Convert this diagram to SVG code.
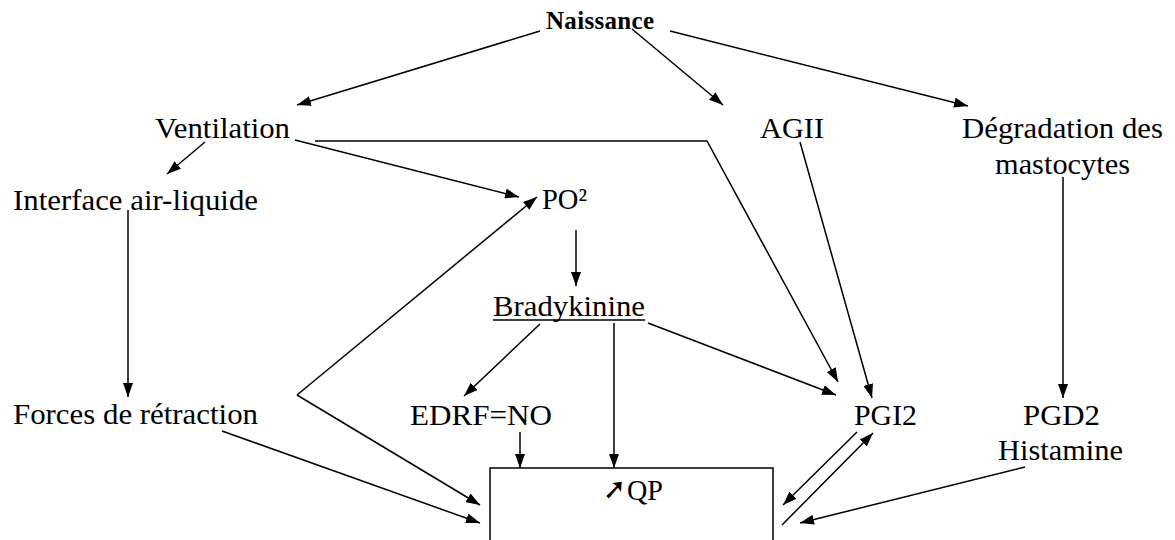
<svg xmlns="http://www.w3.org/2000/svg" width="1175" height="540" viewBox="0 0 1175 540">
<style>
.t{font-family:"Liberation Serif","Times New Roman",serif;font-size:30px;fill:#000}
.b{font-family:"Liberation Serif","Times New Roman",serif;font-size:25px;font-weight:bold;fill:#000}
.c line,.c path{stroke:#000;stroke-width:1.5;fill:none;marker-end:url(#ah)}
</style>
<defs>
<marker id="ah" viewBox="0 0 14 10" refX="14" refY="5" markerWidth="14" markerHeight="10" markerUnits="userSpaceOnUse" orient="auto">
<path d="M0,0 L14,5 L0,10 z" fill="#000"/>
</marker>
</defs>
<rect width="1175" height="540" fill="#fff"/>
<g id="connectors" class="c">
<line x1="540" y1="31" x2="297" y2="105"/>
<line x1="632" y1="29" x2="723" y2="105"/>
<line x1="670" y1="31" x2="968" y2="106"/>
<line x1="205" y1="142" x2="167" y2="174"/>
<line x1="295" y1="140" x2="519" y2="197"/>
<path d="M315,141 L707,141 L838,382"/>
<line x1="800" y1="142" x2="872" y2="398"/>
<line x1="1063" y1="177" x2="1063" y2="398"/>
<line x1="128" y1="210" x2="128" y2="397"/>
<line x1="576" y1="230" x2="576" y2="286"/>
<line x1="297" y1="395" x2="537" y2="197"/>
<line x1="297" y1="395" x2="480" y2="505"/>
<line x1="222" y1="431" x2="480" y2="523"/>
<line x1="540" y1="324" x2="464" y2="396"/>
<line x1="614" y1="323" x2="614" y2="468"/>
<line x1="648" y1="323" x2="836" y2="395"/>
<line x1="520" y1="432" x2="520" y2="468"/>
<line x1="857" y1="432" x2="783" y2="505"/>
<line x1="782" y1="525" x2="873" y2="433"/>
<line x1="1025" y1="467" x2="800" y2="523"/>
</g>
<g id="naissance"><text class="b" x="546" y="29" textLength="108" lengthAdjust="spacing">Naissance</text></g>
<g id="ventilation"><text class="t" x="155" y="138" textLength="135" lengthAdjust="spacingAndGlyphs">Ventilation</text></g>
<g id="agii"><text class="t" x="760" y="138" textLength="64" lengthAdjust="spacingAndGlyphs">AGII</text></g>
<g id="degradation"><text class="t" x="962" y="138" textLength="201" lengthAdjust="spacingAndGlyphs">Dégradation des</text><text class="t" x="995" y="174" textLength="135" lengthAdjust="spacingAndGlyphs">mastocytes</text></g>
<g id="interface"><text class="t" x="13" y="210" textLength="245" lengthAdjust="spacingAndGlyphs">Interface air-liquide</text></g>
<g id="po2"><text class="t" x="542" y="209" textLength="45" lengthAdjust="spacingAndGlyphs">PO²</text></g>
<g id="bradykinine"><text class="t" x="493" y="316" textLength="152" lengthAdjust="spacingAndGlyphs">Bradykinine</text><line x1="493" y1="320" x2="645" y2="320" stroke="#000" stroke-width="1.3"/></g>
<g id="forces"><text class="t" x="13" y="424" textLength="245" lengthAdjust="spacingAndGlyphs">Forces de rétraction</text></g>
<g id="edrf"><text class="t" x="410" y="425" textLength="142" lengthAdjust="spacingAndGlyphs">EDRF=NO</text></g>
<g id="pgi2"><text class="t" x="854" y="425" textLength="63" lengthAdjust="spacingAndGlyphs">PGI2</text></g>
<g id="pgd2"><text class="t" x="1023" y="425" textLength="77" lengthAdjust="spacingAndGlyphs">PGD2</text><text class="t" x="998" y="460" textLength="125" lengthAdjust="spacingAndGlyphs">Histamine</text></g>
<g id="qp"><rect x="490" y="468" width="283" height="90" fill="none" stroke="#000" stroke-width="1.5"/><text x="603" y="499" textLength="23" lengthAdjust="spacingAndGlyphs" style="font-family:'DejaVu Sans',sans-serif;font-size:30px;font-weight:bold" fill="#000">➚</text><text class="t" x="627" y="500" textLength="36" lengthAdjust="spacingAndGlyphs">QP</text></g>
</svg>
